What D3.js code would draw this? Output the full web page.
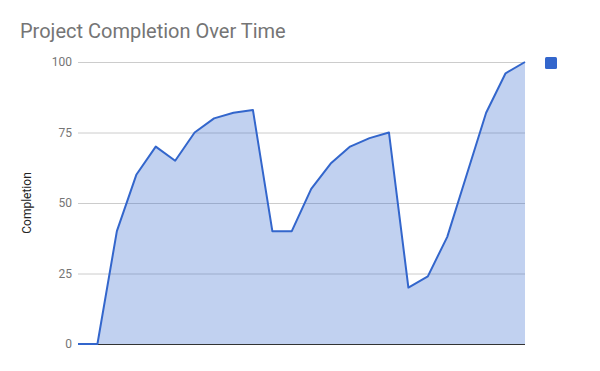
<!DOCTYPE html>
<html>
<head>
<meta charset="utf-8">
<script src="https://cdn.jsdelivr.net/npm/d3@7"></script>
<style>
  html, body { margin: 0; padding: 0; background: #fff; }
  svg { display: block; font-family: Roboto, Arial, sans-serif; }
</style>
</head>
<body>
<div id="chart"></div>
<script>
// data
const steps = d3.range(1, 25);   // 24 time steps, no x labels shown
const completion = [0, 0, 40, 60, 70, 65, 75, 80, 82, 83, 40, 40,
                    55, 64, 70, 73, 75, 20, 24, 38, 60, 82, 96, 100];
const yTicks = [0, 25, 50, 75, 100];
const seriesName = "";

const width = 600, height = 371;
const margin = { top: 62, right: 75, bottom: 27, left: 78 };
const color = "#3366cc";

const svg = d3.select("#chart").append("svg")
    .attr("width", width)
    .attr("height", height);

const x = d3.scaleLinear()
    .domain(d3.extent(steps))
    .range([margin.left, width - margin.right]);

const y = d3.scaleLinear()
    .domain([0, 100])
    .range([height - margin.bottom, margin.top]);

// title
svg.append("text")
    .attr("x", 20).attr("y", 38)
    .style("font-size", "20px")
    .style("fill", "#757575")
    .text("Project Completion Over Time");

// gridlines + tick labels
const yAxis = d3.axisLeft(y).tickValues(yTicks).tickSize(-(width - margin.left - margin.right)).tickPadding(6);
const gy = svg.append("g")
    .attr("transform", `translate(${margin.left},0)`)
    .call(yAxis);
gy.select(".domain").remove();
gy.selectAll(".tick line").attr("stroke", "#cccccc");
gy.selectAll(".tick text")
    .style("font-size", "12px")
    .style("font-family", "Roboto, Arial, sans-serif")
    .attr("fill", "#757575");
gy.selectAll(".tick").filter(d => d === 0).select("line").attr("stroke", "#333");

// axis title
svg.append("text")
    .attr("transform", `translate(31,${(margin.top + height - margin.bottom) / 2}) rotate(-90)`)
    .attr("text-anchor", "middle")
    .style("font-size", "12px")
    .style("fill", "#222")
    .text("Completion");

const pts = steps.map((s, i) => ({ s, v: completion[i] }));

svg.append("path")
    .datum(pts)
    .attr("fill", color)
    .attr("fill-opacity", 0.3)
    .attr("d", d3.area().x(d => x(d.s)).y0(y(0)).y1(d => y(d.v)));

svg.append("path")
    .datum(pts)
    .attr("fill", "none")
    .attr("stroke", color)
    .attr("stroke-width", 2)
    .attr("stroke-linejoin", "round")
    .attr("d", d3.line().x(d => x(d.s)).y(d => y(d.v)));

// legend (series has no name)
const legend = svg.append("g").attr("transform", "translate(545,57)");
legend.append("rect")
    .attr("width", 12).attr("height", 12)
    .attr("rx", 1.5)
    .attr("fill", color);
legend.append("text")
    .attr("x", 18).attr("y", 10)
    .style("font-size", "12px")
    .style("fill", "#222")
    .text(seriesName);
</script>
</body>
</html>
